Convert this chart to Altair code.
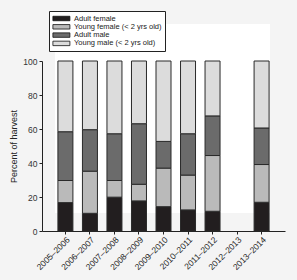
import altair as alt
import pandas as pd

seasons = ["2005–2006", "2006–2007", "2007–2008", "2008–2009", "2009–2010",
           "2010–2011", "2011–2012", "2012–2013", "2013–2014"]
groups = ["Adult female", "Young female (< 2 yrs old)", "Adult male", "Young male (< 2 yrs old)"]
colors = ["#221e1f", "#bababa", "#6b6b6b", "#dcdcdc"]

# percent values per season (2012–2013 has no data)
adult_female = [16.7, 10.4, 19.9, 17.7, 14.3, 12.4, 11.6, None, 16.9]
young_female = [13.0, 24.8, 9.8, 9.8, 22.7, 20.5, 32.8, None, 22.2]
adult_male = [28.7, 24.4, 27.5, 35.6, 15.7, 24.3, 23.3, None, 21.5]
young_male = [41.6, 40.4, 42.8, 36.9, 47.3, 42.8, 32.3, None, 39.4]

rows = []
for gi, (g, vals) in enumerate(zip(groups, [adult_female, young_female, adult_male, young_male])):
    for s, v in zip(seasons, vals):
        if v is not None:
            rows.append({"season": s, "group": g, "value": v, "order": gi})
df = pd.DataFrame(rows)

font = "Liberation Sans"

backdrop = alt.Chart(pd.DataFrame({"a": [0]})).mark_rect(color="white").encode(
    x=alt.value(13), x2=alt.value(228), y=alt.value(-37), y2=alt.value(152)
)

bars = alt.Chart(df).mark_bar(stroke="#2a2a2a", strokeWidth=1, width=15).encode(
    x=alt.X("season:N", sort=seasons, scale=alt.Scale(domain=seasons, paddingInner=0.39, paddingOuter=0.65),
            axis=alt.Axis(title=None, labelAngle=-45, labelAlign="right", labelBaseline="top",
                          labelFontSize=8.5, labelColor="#222", tickSize=3, tickColor="#222",
                          domainColor="#222", labelPadding=1, labelFont=font)),
    y=alt.Y("value:Q", stack="zero", scale=alt.Scale(domain=[0, 100], nice=False),
            axis=alt.Axis(title="Percent of harvest", values=[0, 20, 40, 60, 80, 100], tickSize=3,
                          labelFontSize=8.5, labelColor="#333", titleFontSize=9, titleFontWeight="normal",
                          titleColor="#222", titlePadding=4, domainColor="#222", tickColor="#222",
                          grid=False, labelFont=font, titleFont=font, labelPadding=2)),
    color=alt.Color("group:N", scale=alt.Scale(domain=groups, range=colors),
                    legend=alt.Legend(title=None, orient="none", legendX=7, legendY=-50,
                                      symbolType="M-1,-0.62H3.72V0.62H-1Z", symbolSize=51.84,
                                      symbolStrokeColor="#111", symbolStrokeWidth=0.8,
                                      labelFontSize=7.5, labelFont=font, labelColor="#222",
                                      rowPadding=0.3, labelOffset=13.5,
                                      strokeColor="#222", fillColor="white", padding=3.5,
                                      symbolOpacity=1)),
    order=alt.Order("order:Q"),
)

chart = alt.layer(backdrop, bars).properties(
    width=243, height=170,
    autosize=alt.AutoSizeParams(type="none"),
    padding={"left": 42, "top": 61, "right": 12, "bottom": 49},
    background="#f4f4f4",
).configure_view(stroke=None)

chart.save("out.html", embed_options={"renderer": "svg", "actions": False})
